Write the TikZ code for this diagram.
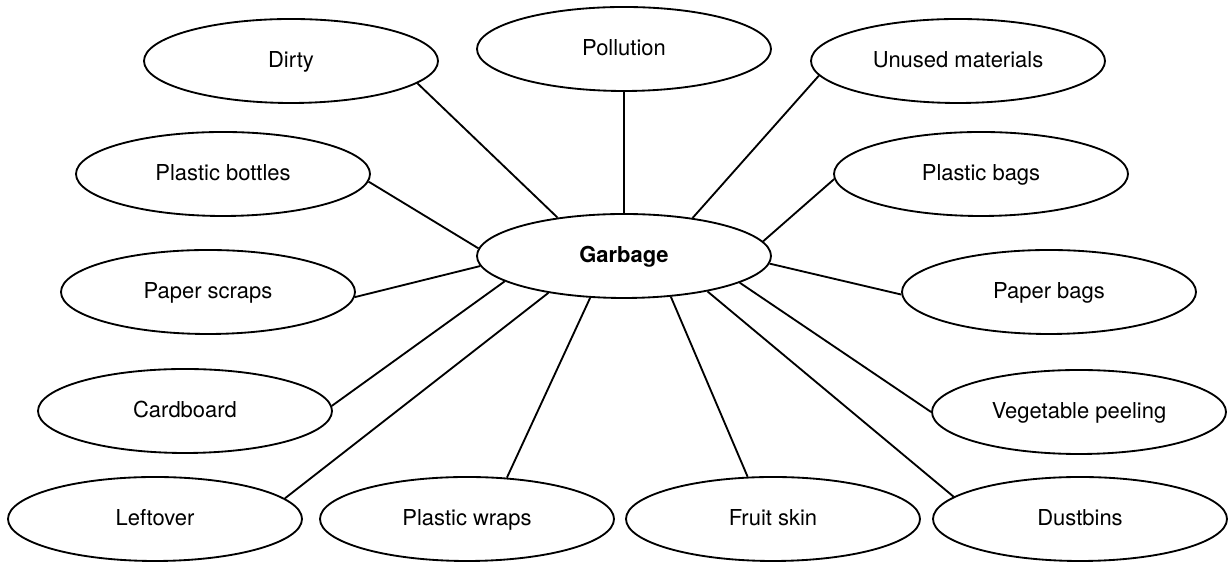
\documentclass[tikz,border=0pt]{standalone}
\usepackage{fontspec}
\setmainfont{TeX Gyre Heros}
\usepackage{tikz}
\usetikzlibrary{shapes.geometric}

\begin{document}
\begin{tikzpicture}[
    bubble/.style={draw, ellipse, line width=1.05pt, minimum width=5.88cm, minimum height=1.68cm, inner sep=0pt, text height=10pt, text depth=2.5pt, font=\fontsize{12.5}{15}\selectfont},
    link/.style={line width=1.05pt}
]
                    \useasboundingbox (0, 0) rectangle (24.56, 11.24);

                    \node[bubble] (dirty) at (5.82, 10.02) {Dirty};
                    \node[bubble] (pollution) at (12.48, 10.26) {Pollution};
                    \node[bubble] (unused) at (19.16, 10.02) {Unused materials};
                    \node[bubble] (bottles) at (4.46, 7.76) {Plastic bottles};
                    \node[bubble] (plasticbags) at (19.62, 7.76) {Plastic bags};
                    \node[bubble, font=\fontsize{12.5}{15}\selectfont\bfseries] (garbage) at (12.48, 6.12) {Garbage};
                    \node[bubble] (scraps) at (4.16, 5.40) {Paper scraps};
                    \node[bubble] (paperbags) at (20.98, 5.40) {Paper bags};
                    \node[bubble] (cardboard) at (3.70, 3.02) {Cardboard};
                    \node[bubble] (peeling) at (21.58, 3.00) {Vegetable peeling};
                    \node[bubble] (leftover) at (3.10, 0.86) {Leftover};
                    \node[bubble] (wraps) at (9.34, 0.86) {Plastic wraps};
                    \node[bubble] (fruit) at (15.46, 0.86) {Fruit skin};
                    \node[bubble] (dustbins) at (21.60, 0.86) {Dustbins};

                    \draw[link]
                    (dirty.-10) -- (garbage.150)
                    (pollution.south) -- (garbage.north)
                    (unused.186) -- (garbage.29)
                    (plasticbags.182) -- (garbage.6)
                    (paperbags.181) -- (garbage.-3)
                    (bottles.-3) -- (garbage.177)
                    (scraps.-2) -- (garbage.184)
                    (cardboard.2) -- (garbage.192)
                    (leftover.9) -- (garbage.206)
                    (wraps.46) -- (garbage.231)
                    (fruit.121) -- (garbage.-41)
                    (dustbins.170) -- (garbage.-23)
                    (peeling.180) -- (garbage.-13);
                \end{tikzpicture}
\end{document}
